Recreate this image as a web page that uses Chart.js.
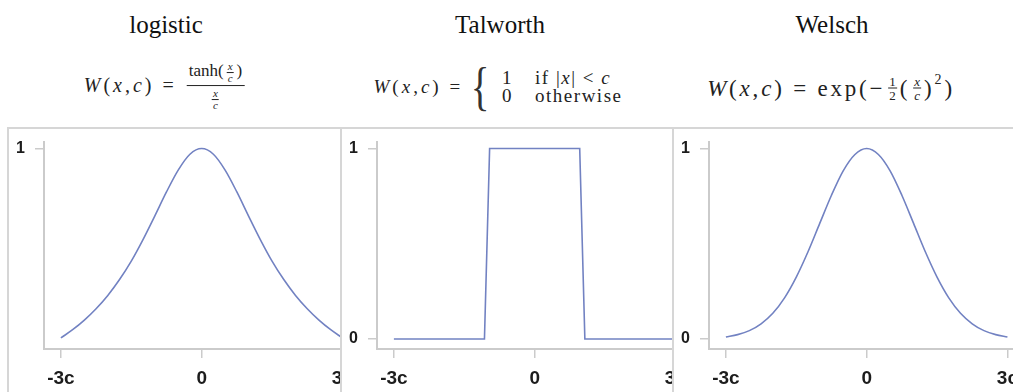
<!DOCTYPE html>
<html>
<head>
<meta charset="utf-8">
<script src="https://cdn.jsdelivr.net/npm/chart.js@4.4.1/dist/chart.umd.min.js"></script>
<style>
    html, body { margin: 0; padding: 0; background: #fff; }
    body { width: 1013px; height: 392px; position: relative; overflow: hidden; }
    .title { position: absolute; top: 11px; transform: translateX(-50%); font: 25px "Liberation Serif", "DejaVu Serif", serif; color: #111; white-space: nowrap; }
    .eq { position: absolute; transform: translate(-50%, -50%); font: 20px "Liberation Serif", "DejaVu Serif", serif; color: #222; white-space: nowrap; display: flex; align-items: center; }
    .it { font-style: italic; }
    .frac { display: inline-flex; flex-direction: column; align-items: center; margin-left: 10px; }
    .frac .num { border-bottom: 1.3px solid #222; padding: 0 2px 1px 2px; line-height: 1.1; font-size: 17px; }
    .frac .den { line-height: 1.1; }
    .sfrac { display: inline-flex; flex-direction: column; align-items: center; vertical-align: middle; font-size: 11px; line-height: 1; margin: 0 3px; }
    .sfrac .n { border-bottom: 0.8px solid #222; padding: 0 1px; }
    .cell { position: absolute; top: 127px; height: 265px; border-top: 2px solid #d6d6d6; border-left: 2px solid #d6d6d6; overflow: hidden; background: #fff; }
    .cell canvas { position: absolute; left: 0; top: -7px; }
    .cases td { padding: 0; line-height: 18px; }
</style>
</head>
<body>
<div class="title" style="left:166px">logistic</div>
<div class="title" style="left:500px">Talworth</div>
<div class="title" style="left:832px">Welsch</div>

<div class="eq" style="left:164px; top:86px">
    <span style="letter-spacing:3px"><span class="it">W</span>(<span class="it">x</span>,<span class="it">c</span>)&nbsp;=</span>
    <span class="frac">
        <span class="num">tanh(<span class="sfrac"><span class="n it">x</span><span class="it">c</span></span>)</span>
        <span class="den"><span class="sfrac"><span class="n it">x</span><span class="it">c</span></span></span>
    </span>
</div>

<div class="eq" style="left:498px; top:87px; font-size:19px">
    <span style="letter-spacing:3px"><span class="it">W</span>(<span class="it">x</span>,<span class="it">c</span>)&nbsp;=</span>
    <span style="font-size:52px; line-height:50px; transform:scaleX(0.75); display:inline-block; margin:0 10px 0 4px; color:#333">{</span>
    <table class="cases" style="border-collapse:collapse; letter-spacing:1.5px">
        <tr><td style="padding-right:22px">1</td><td>if |<span class="it">x</span>| &lt; <span class="it">c</span></td></tr>
        <tr><td style="padding-right:22px">0</td><td>otherwise</td></tr>
    </table>
</div>

<div class="eq" style="left:831px; top:88px; font-size:23px; letter-spacing:2.8px">
    <span class="it">W</span>(<span class="it">x</span>,<span class="it">c</span>)&nbsp;=&nbsp;exp(&minus;<span class="sfrac" style="font-size:13px; letter-spacing:0"><span class="n">1</span><span>2</span></span>(<span class="sfrac" style="font-size:13px; letter-spacing:0"><span class="n it">x</span><span class="it">c</span></span>)<span style="font-size:14px; position:relative; top:-9px">2</span>)
</div>

<div class="cell" style="left:7px; width:331px"><canvas id="logisticChart" width="353" height="270"></canvas></div>
<div class="cell" style="left:340px; width:330px"><canvas id="talworthChart" width="353" height="270"></canvas></div>
<div class="cell" style="left:672px; width:345px"><canvas id="welschChart" width="353" height="270"></canvas></div>

<script>
"use strict";

// values
const xValues = [-3, -2.75, -2.5, -2.25, -2, -1.75, -1.5, -1.25, -1, -0.75, -0.5, -0.25, 0,
    0.25, 0.5, 0.75, 1, 1.25, 1.5, 1.75, 2, 2.25, 2.5, 2.75, 3];
const logisticValues = [0.332, 0.361, 0.395, 0.435, 0.482, 0.538, 0.603, 0.679, 0.762, 0.847, 0.924, 0.980, 1,
    0.980, 0.924, 0.847, 0.762, 0.679, 0.603, 0.538, 0.482, 0.435, 0.395, 0.361, 0.332];
const welschValues = [0.011, 0.023, 0.044, 0.080, 0.135, 0.216, 0.325, 0.458, 0.607, 0.755, 0.883, 0.969, 1,
    0.969, 0.883, 0.755, 0.607, 0.458, 0.325, 0.216, 0.135, 0.080, 0.044, 0.023, 0.011];
const talworthX = [-3, -1.07, -0.96, 0.96, 1.07, 3];
const talworthValues = [0, 0, 1, 1, 0, 0];

const xTickValues = [-3, 0, 3];
const xTickLabels = ["-3c", "0", "3c"];
const yTickValues = [0, 1];
const yTickLabels = ["0", "1"];

const lineColor = "#7282c2";
const axisColor = "#cbcbcb";

const toPoints = (xs, ys) => xs.map((x, i) => ({ x: x, y: ys[i] }));

const makeChart = (id, points, yMin, yMax, smooth) => {
    const ctx = document.getElementById(id);
    return new Chart(ctx, {
        type: "line",
        data: {
            datasets: [{
                data: points,
                borderColor: lineColor,
                borderWidth: 1.6,
                pointRadius: 0,
                fill: false,
                tension: smooth ? 0.4 : 0,
                cubicInterpolationMode: smooth ? "monotone" : "default"
            }]
        },
        options: {
            responsive: false,
            animation: false,
            layout: { padding: 0 },
            plugins: { legend: { display: false }, tooltip: { enabled: false } },
            scales: {
                x: {
                    type: "linear",
                    min: -3.36,
                    max: 3.36,
                    afterBuildTicks: (scale) => {
                        scale.ticks = xTickValues.map(v => ({ value: v }));
                    },
                    afterFit: (scale) => { scale.height = 43; },
                    ticks: {
                        autoSkip: false,
                        maxRotation: 0,
                        padding: 9,
                        color: "#1c1c1c",
                        font: { family: "'Liberation Sans', Arial, sans-serif", size: 19, weight: "bold" },
                        callback: (value) => xTickLabels[xTickValues.indexOf(value)]
                    },
                    grid: { drawOnChartArea: false, drawTicks: true, tickLength: 9, color: axisColor, lineWidth: 1.5 },
                    border: { display: true, color: axisColor, width: 2 }
                },
                y: {
                    type: "linear",
                    min: yMin,
                    max: yMax,
                    afterBuildTicks: (scale) => {
                        scale.ticks = yTickValues.filter(v => v >= scale.min && v <= scale.max).map(v => ({ value: v }));
                    },
                    afterFit: (scale) => { scale.width = 35; },
                    ticks: {
                        padding: 10,
                        color: "#1c1c1c",
                        font: { family: "'Liberation Sans', Arial, sans-serif", size: 16, weight: "bold" },
                        callback: (value) => yTickLabels[yTickValues.indexOf(value)]
                    },
                    grid: { drawOnChartArea: false, drawTicks: true, tickLength: 9, color: axisColor, lineWidth: 1.5 },
                    border: { display: true, color: axisColor, width: 2 }
                }
            }
        }
    });
};

document.addEventListener("DOMContentLoaded", () => {
    makeChart("logisticChart", toPoints(xValues, logisticValues), 0.293, 1.0246, true);
    makeChart("talworthChart", toPoints(talworthX, talworthValues), -0.0524, 1.0366, false);
    makeChart("welschChart", toPoints(xValues, welschValues), -0.0524, 1.0366, true);
});
</script>
</body>
</html>
